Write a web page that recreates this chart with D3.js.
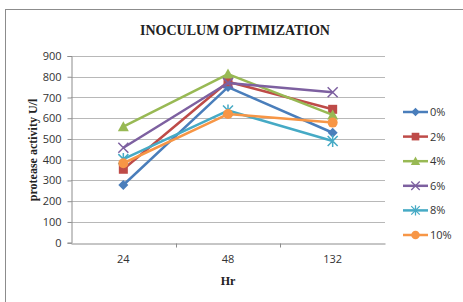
<!DOCTYPE html>
<html>
<head>
<meta charset="utf-8">
<script src="https://cdn.jsdelivr.net/npm/d3@7"></script>
<style>
  body { margin: 0; background: #fff; }
</style>
</head>
<body>
<div id="chart"></div>
<script>
const hours = ["24", "48", "132"];
const yTicks = [0, 100, 200, 300, 400, 500, 600, 700, 800, 900];
const seriesNames = ["0%", "2%", "4%", "6%", "8%", "10%"];
const act0 = [278, 750, 530];
const act2 = [354, 776, 643];
const act4 = [559, 813, 616];
const act6 = [458, 770, 725];
const act8 = [403, 637, 490];
const act10 = [383, 620, 579];

const width = 463, height = 302;
const series = [
  { name: seriesNames[0], values: act0, color: "#4A7EBB", marker: "diamond" },
  { name: seriesNames[1], values: act2, color: "#BE4B48", marker: "square" },
  { name: seriesNames[2], values: act4, color: "#98B954", marker: "triangle" },
  { name: seriesNames[3], values: act6, color: "#7D60A0", marker: "x" },
  { name: seriesNames[4], values: act8, color: "#46AAC5", marker: "star" },
  { name: seriesNames[5], values: act10, color: "#F79646", marker: "circle" }
];

const svg = d3.select("#chart").append("svg")
  .attr("width", width)
  .attr("height", height);

// outer frame (chart area is cropped at right/bottom)
svg.append("rect")
  .attr("x", 5.5).attr("y", 9.5)
  .attr("width", 480).attr("height", 320)
  .attr("fill", "#fff")
  .attr("stroke", "#8c8c8c")
  .attr("stroke-width", 1);

const x = d3.scaleBand().domain(hours).range([71, 385]);
const y = d3.scaleLinear().domain([0, 900]).range([242.7, 56]);

// gridlines
svg.append("g")
  .selectAll("line")
  .data(yTicks.filter(d => d > 0))
  .join("line")
  .attr("x1", 71).attr("x2", 385)
  .attr("y1", d => Math.round(y(d)) + 0.5)
  .attr("y2", d => Math.round(y(d)) + 0.5)
  .attr("stroke", "#b8b8b8");

// y axis
const yAxis = svg.append("g")
  .attr("transform", "translate(71.5,0)")
  .call(d3.axisLeft(y).tickValues(yTicks).tickSize(4).tickPadding(6));
yAxis.select(".domain").attr("stroke", "#8c8c8c");
yAxis.selectAll(".tick line").attr("stroke", "#8c8c8c");
yAxis.selectAll("text")
  .attr("font-family", "'Open Sans', sans-serif")
  .attr("font-size", "11px")
  .attr("fill", "#333");

// x axis
const xAxis = svg.append("g")
  .attr("transform", "translate(0," + (Math.round(y(0)) + 0.5) + ")")
  .call(d3.axisBottom(x).tickSize(0).tickPadding(12));
xAxis.select(".domain").attr("stroke", "#8c8c8c");
xAxis.selectAll("text")
  .attr("font-family", "'Open Sans', sans-serif")
  .attr("font-size", "11px")
  .attr("fill", "#333");
// category boundary ticks
xAxis.selectAll(".bound")
  .data(hours.slice(1))
  .join("line")
  .attr("x1", d => Math.round(x(d)) + 0.5)
  .attr("x2", d => Math.round(x(d)) + 0.5)
  .attr("y1", 0).attr("y2", 4)
  .attr("stroke", "#8c8c8c");

// title
svg.append("text")
  .attr("x", 235).attr("y", 35)
  .attr("text-anchor", "middle")
  .attr("font-family", "'Liberation Serif', serif")
  .attr("font-weight", "700")
  .attr("font-size", "14px")
  .attr("fill", "#222")
  .text("INOCULUM OPTIMIZATION");

// axis titles
svg.append("text")
  .attr("transform", "rotate(-90)")
  .attr("x", -150).attr("y", 37)
  .attr("text-anchor", "middle")
  .attr("font-family", "'Liberation Serif', serif")
  .attr("font-weight", "700")
  .attr("font-size", "12px")
  .attr("fill", "#222")
  .text("protease activity U/l");

svg.append("text")
  .attr("x", 228).attr("y", 285)
  .attr("text-anchor", "middle")
  .attr("font-family", "'Liberation Serif', serif")
  .attr("font-weight", "700")
  .attr("font-size", "12px")
  .attr("fill", "#222")
  .text("Hr");

function drawMarker(g, type, color) {
  if (type === "diamond") {
    g.append("path").attr("d", "M0,-5L5,0L0,5L-5,0Z").attr("fill", color);
  } else if (type === "square") {
    g.append("rect").attr("x", -4.5).attr("y", -4.5).attr("width", 9).attr("height", 9).attr("fill", color);
  } else if (type === "triangle") {
    g.append("path").attr("d", "M0,-5.5L5.5,4.5L-5.5,4.5Z").attr("fill", color);
  } else if (type === "x") {
    g.append("path").attr("d", "M-5,-5L5,5M-5,5L5,-5").attr("stroke", color).attr("stroke-width", 1.5);
  } else if (type === "star") {
    g.append("path").attr("d", "M-5,-5L5,5M-5,5L5,-5M0,-6L0,6").attr("stroke", color).attr("stroke-width", 1.5);
  } else {
    g.append("circle").attr("r", 5).attr("fill", color);
  }
}

const line = d3.line()
  .x(d => x(d.h) + x.bandwidth() / 2)
  .y(d => y(d.v));

series.forEach(s => {
  const pts = s.values.map((v, i) => ({ h: hours[i], v }));
  svg.append("path")
    .datum(pts)
    .attr("fill", "none")
    .attr("stroke", s.color)
    .attr("stroke-width", 2.5)
    .attr("stroke-linejoin", "round")
    .attr("d", line);
  pts.forEach(p => {
    const g = svg.append("g")
      .attr("transform", "translate(" + (x(p.h) + x.bandwidth() / 2) + "," + y(p.v) + ")");
    drawMarker(g, s.marker, s.color);
  });
});

// legend
const legend = svg.append("g").attr("transform", "translate(403,112)");
series.forEach((s, i) => {
  const row = legend.append("g").attr("transform", "translate(0," + i * 24.6 + ")");
  row.append("line")
    .attr("x1", 0).attr("x2", 25)
    .attr("stroke", s.color).attr("stroke-width", 2.5);
  const m = row.append("g").attr("transform", "translate(12.5,0) scale(0.85)");
  drawMarker(m, s.marker, s.color);
  row.append("text")
    .attr("x", 27).attr("y", 4)
    .attr("font-family", "'Open Sans', sans-serif")
    .attr("font-size", "11px")
    .attr("fill", "#333")
    .text(s.name);
});
</script>
</body>
</html>
